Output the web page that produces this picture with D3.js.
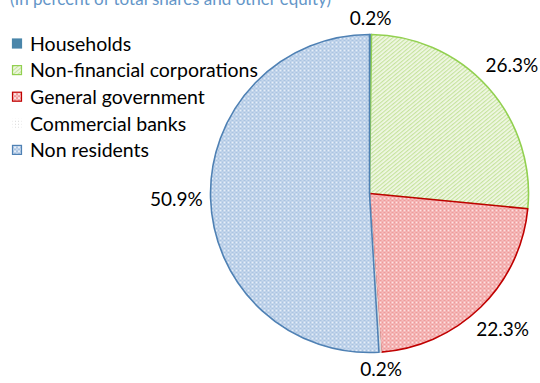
<!DOCTYPE html>
<html>
<head>
<meta charset="utf-8">
<script src="https://cdn.jsdelivr.net/npm/d3@7"></script>
<style>
  html, body { margin: 0; padding: 0; background: #fff; }
  svg { display: block; }
  text { font-family: Lato, "Open Sans", sans-serif; }
</style>
</head>
<body>
<svg id="chart" width="540" height="383"></svg>
<script>
// Holders of shares and other equity, in percent of the total
const sectors = ["Households", "Non-financial corporations", "General government", "Commercial banks", "Non residents"];
const shares = [0.2, 26.3, 22.3, 0.2, 50.9];
const shareLabels = ["0.2%", "26.3%", "22.3%", "0.2%", "50.9%"];
const subtitle = "(In percent of total shares and other equity)";

const svg = d3.select("#chart");
const defs = svg.append("defs");

// Fill patterns for each sector
function checker(id, light, dark) {
  const p = defs.append("pattern").attr("id", id)
    .attr("patternUnits", "userSpaceOnUse").attr("width", 4).attr("height", 4);
  p.append("rect").attr("width", 4).attr("height", 4).attr("fill", light);
  p.append("rect").attr("x", 0).attr("y", 0).attr("width", 2).attr("height", 2).attr("fill", dark);
  p.append("rect").attr("x", 2).attr("y", 2).attr("width", 2).attr("height", 2).attr("fill", dark);
  p.append("rect").attr("x", 0).attr("y", 2).attr("width", 2).attr("height", 2).attr("fill", d3.interpolateRgb(light, dark)(0.5));
}
checker("pat-gov", "#fde2e2", "#ee9a9a");
checker("pat-nonres", "#e6eef8", "#a9c3e1");
{
  const p = defs.append("pattern").attr("id", "pat-nfc")
    .attr("patternUnits", "userSpaceOnUse").attr("width", 3).attr("height", 3)
    .attr("patternTransform", "rotate(-40)");
  p.append("rect").attr("width", 3).attr("height", 3).attr("fill", "#f1f8e6");
  p.append("rect").attr("width", 3).attr("height", 1.2).attr("fill", "#c6e39e");
}
{
  const p = defs.append("pattern").attr("id", "pat-bank")
    .attr("patternUnits", "userSpaceOnUse").attr("width", 3).attr("height", 3);
  p.append("rect").attr("width", 3).attr("height", 3).attr("fill", "#ffffff");
  p.append("rect").attr("width", 1).attr("height", 1).attr("fill", "#d8d8d8");
}

const fills = d3.scaleOrdinal().domain(sectors)
  .range(["#4a86aa", "url(#pat-nfc)", "url(#pat-gov)", "url(#pat-bank)", "url(#pat-nonres)"]);
const strokes = d3.scaleOrdinal().domain(sectors)
  .range(["#4a86aa", "#92d050", "#c00000", "#d9d9d9", "#4f81b4"]);
const swatchStrokes = d3.scaleOrdinal().domain(sectors)
  .range(["#4a86aa", "#92d050", "#c00000", "none", "#4f81b4"]);

// Subtitle (runs off the top edge)
svg.append("text")
  .attr("x", 10).attr("y", 5)
  .attr("font-size", 17).attr("fill", "#6496c8")
  .text(subtitle);

// Pie
const cx = 369.5, cy = 193.5, r = 159;
const data = sectors.map((s, i) => ({ name: s, value: shares[i], label: shareLabels[i] }));
const pie = d3.pie().sort(null).value(d => d.value);
const arcs = pie(data);
const arc = d3.arc().innerRadius(0).outerRadius(r);

const g = svg.append("g").attr("transform", `translate(${cx},${cy})`);
g.selectAll("path.slice").data(arcs).join("path")
  .attr("class", "slice")
  .attr("d", arc)
  .attr("fill", d => fills(d.data.name))
  .attr("stroke", d => strokes(d.data.name))
  .attr("stroke-width", 1.6)
  .attr("stroke-linejoin", "round");

// Value labels placed just outside the rim
const labW = 50, labH = 14, pad = 9;
g.selectAll("text.val").data(arcs).join("text")
  .attr("class", "val")
  .each(function(d) {
    const a = (d.startAngle + d.endAngle) / 2;
    const dist = r + pad + Math.abs(Math.sin(a)) * labW / 2 + Math.abs(Math.cos(a)) * labH / 2;
    d3.select(this)
      .attr("x", Math.sin(a) * dist)
      .attr("y", -Math.cos(a) * dist)
      .attr("dy", "0.35em");
  })
  .attr("text-anchor", "middle")
  .attr("font-size", 19)
  .attr("fill", "#000")
  .text(d => d.data.label);

// Legend
const legend = svg.append("g").attr("transform", "translate(12,44)");
const rowH = 26.6;
const items = legend.selectAll("g").data(sectors).join("g")
  .attr("transform", (d, i) => `translate(0,${i * rowH})`);
items.append("rect")
  .attr("x", 0.5).attr("y", -5).attr("width", 9).attr("height", 9)
  .attr("fill", d => fills(d))
  .attr("stroke", d => swatchStrokes(d))
  .attr("stroke-width", 1.2);
items.append("text")
  .attr("x", 18).attr("y", 0).attr("dy", "0.35em")
  .attr("font-size", 19.5).attr("fill", "#000")
  .text(d => d);
</script>
</body>
</html>
